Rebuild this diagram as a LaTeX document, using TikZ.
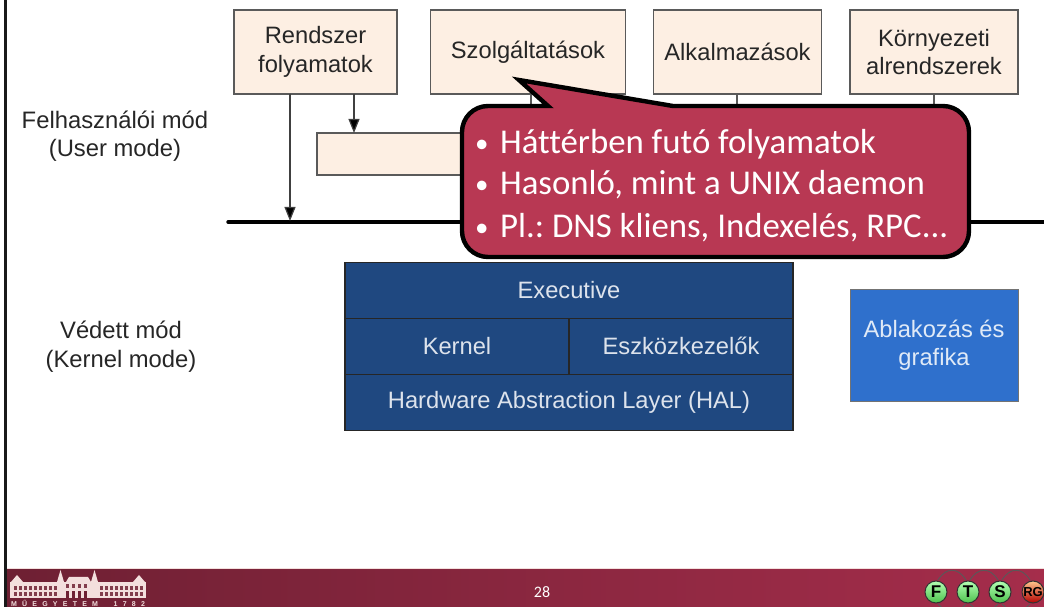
\documentclass[tikz,border=0pt]{standalone}
\usepackage{fontspec}
\setmainfont{Liberation Sans}
\newfontfamily\calli[Ligatures=NoCommon]{Carlito}
\usetikzlibrary{arrows.meta,shadings}
\definecolor{peach}{HTML}{FDEFE3}
\definecolor{boxline}{HTML}{5A5A5A}
\definecolor{navy}{HTML}{1F4880}
\definecolor{midblue}{HTML}{2F70CC}
\definecolor{callfill}{HTML}{B83853}
\definecolor{footL}{HTML}{6E2033}
\definecolor{footR}{HTML}{A52D4B}
\definecolor{pale}{HTML}{F3DFDD}
\newcommand{\smallbul}{{\fontsize{27}{27}\selectfont\raisebox{1pt}{•}}\,\,}
\tikzset{
  x=1pt,y=1pt,
  pbox/.style={draw=boxline,line width=1.3pt,fill=peach,inner sep=0pt,align=center,text=black!85,font=\fontsize{23.7}{28.5}\selectfont},
  nbox/.style={draw=black!85,line width=1.2pt,fill=navy,inner sep=0pt,align=center,text=white!85!navy,font=\fontsize{23.7}{28.5}\selectfont},
  lab/.style={align=center,text=black!85,font=\fontsize{23.8}{28.5}\selectfont},
  arr/.style={draw=black!75,line width=1.2pt,-{Triangle[length=14pt,width=11pt,fill=black]}},
  stub/.style={draw=black!65,line width=1.2pt},
  bullet/.style={anchor=west,text=white,font=\calli\fontsize{34.8}{38}\selectfont},
  ball/.style={circle,draw=black!80,line width=1pt,minimum size=22pt,inner sep=0pt,font=\bfseries\fontsize{17}{17}\selectfont},
  curl/.style={draw=black!65,line width=.9pt},
}
\begin{document}
\begin{tikzpicture}
\frenchspacing
\useasboundingbox (0,0) rectangle (1044,607);
\fill[white] (0,0) rectangle (1044,607);
% frame and footer
\fill[black!90] (3.5,0) rectangle (7,607);
\shade[left color=footL,right color=footR] (7,0) rectangle (1044,38);
\fill[pale] (7,38) rectangle (1044,39);
% peach boxes
\node[pbox,minimum width=163pt,minimum height=84pt] (rf) at (315.5,555) {Rendszer\\folyamatok};
\node[pbox,minimum width=195pt,minimum height=84pt] (sz) at (528,555) {\raisebox{-2pt}{Szolgáltatások}};
\node[pbox,minimum width=168pt,minimum height=84pt] (al) at (737.5,555) {\raisebox{1pt}{Alkalmazások}};
\node[pbox,minimum width=168pt,minimum height=84pt] (ko) at (934,555) {Környezeti\\alrendszerek};
\node[pbox,minimum width=370pt,minimum height=42pt] (mid) at (502,453) {};
% system bus
\coordinate (busL) at (228,385);
\coordinate (busR) at (1044,385);
\draw[line width=3.4pt,line cap=round] (busL) -- (busR);
\coordinate (rfa) at (290,513);
\coordinate (rfb) at (354,513);
\coordinate (busa) at (290,386);
\coordinate (mida) at (354,474);
\draw[arr] (rfa) -- (busa);
\draw[arr] (rfb) -- (mida);
\coordinate (szs) at (531,513);
\coordinate (szt) at (531,490);
\coordinate (als) at (737,513);
\coordinate (alt) at (737,490);
\coordinate (kos) at (934,513);
\coordinate (kot) at (934,490);
\draw[stub] (szs) -- (szt);
\draw[stub] (als) -- (alt);
\draw[stub] (kos) -- (kot);
% mode labels
\node[lab] (um) at (115,471) {Felhasználói mód\\(User mode)};
\node[lab] (km) at (121,260.5) {Védett mód\\(Kernel mode)};
% kernel stack
\node[nbox,minimum width=448pt,minimum height=56.3pt] (ex) at (569,316.5) {\raisebox{1.5pt}{Executive}};
\node[nbox,minimum width=224pt,minimum height=56.3pt] (ke) at (457,260.5) {\raisebox{1pt}{Kernel}};
\node[nbox,minimum width=224pt,minimum height=56.3pt] (es) at (681,260.5) {\raisebox{1pt}{Eszközkezelők}};
\node[nbox,minimum width=448pt,minimum height=56.3pt] (ha) at (569,204.5) {\raisebox{-1pt}{Hardware Abstraction Layer (HAL)}};
\node[draw=black!55,line width=1pt,fill=midblue,minimum width=168pt,minimum height=112pt,inner sep=0pt,align=center,text=white!85!midblue,font=\fontsize{23.7}{28.5}\selectfont] (ab) at (934,261) {\raisebox{8pt}{\begin{tabular}{@{}c@{}}Ablakozás és\\grafika\end{tabular}}};
% callout
\draw[line width=4.4pt,draw=black,fill=callfill,line join=miter]
  (488,501) arc[start angle=90,end angle=180,radius=26]
  -- (462,376) arc[start angle=180,end angle=270,radius=26]
  -- (943,350) arc[start angle=270,end angle=360,radius=26]
  -- (969,475) arc[start angle=0,end angle=90,radius=26]
  -- (673,501) -- (519,527) -- (548,501) -- cycle;
\node[bullet] (c1) at (471.5,463) {\smallbul Háttérben futó folyamatok};
\node[bullet] (c2) at (471.5,422) {\smallbul Hasonló, mint a UNIX daemon};
\node[bullet] (c3) at (471.5,379.5) {\smallbul Pl.: DNS kliens, Indexelés, RPC...};
% footer number
\node[text=white,font=\calli\fontsize{16}{16}\selectfont] (pg) at (542,15) {28};
% logo: university building
\begin{scope}[fill=pale,draw=none]
  \fill (10,9) rectangle (146,25);
  \fill (11,25) -- (17,32) -- (23,25) -- cycle;
  \fill (133,25) -- (139,32) -- (145,25) -- cycle;
  \fill (66,25) -- (69,30) -- (88,30) -- (91,25) -- cycle;
  \fill (57,25) -- (60.5,37) -- (64,25) -- cycle;
  \fill (91,25) -- (94.5,37) -- (98,25) -- cycle;
\end{scope}
\foreach \xx in {14,19,...,54,100,105,...,140}{
  \fill[footL!85!pale] (\xx,11) rectangle +(2.8,4);
  \fill[footL!85!pale] (\xx,17) rectangle +(2.8,4);
}
\foreach \xx in {66,72,78,84}{
  \fill[footL] (\xx,9) rectangle +(3.4,7);
  \fill[footL!85!pale] (\xx,19) rectangle +(3.4,4);
}
\node[text=pale,inner sep=0pt,font=\fontsize{7}{7}\bfseries\selectfont,anchor=center] (mu) at (78,4) {\makebox[134pt][s]{M\hfil Ű\hfil E\hfil G\hfil Y\hfil E\hfil T\hfil E\hfil M\hfil\hfil\hfil 1\hfil 7\hfil 8\hfil 2}};
% logo: group balls
\draw[curl] (938,27) .. controls (946,40) and (958,40) .. (966,27);
\draw[curl] (970,27) .. controls (978,40) and (990,40) .. (998,27);
\draw[curl] (1002,27) .. controls (1010,40) and (1022,40) .. (1030,27);
\draw[curl] (938,3) .. controls (946,-6) and (958,-6) .. (966,3);
\draw[curl] (970,3) .. controls (978,-6) and (990,-6) .. (998,3);
\draw[curl] (1002,3) .. controls (1010,-6) and (1022,-6) .. (1030,3);
\node[ball,top color=white!70!green,bottom color=green!65!black!70] (bf) at (936,15) {F};
\node[ball,top color=white!70!green,bottom color=green!65!black!70] (bt) at (968,15) {T};
\node[ball,top color=white!70!green,bottom color=green!65!black!70] (bs) at (1000,15) {S};
\node[ball,top color=orange!45,bottom color=red!70!black,font=\bfseries\fontsize{13}{13}\selectfont] (br) at (1033,15) {RG};
\end{tikzpicture}
\end{document}
